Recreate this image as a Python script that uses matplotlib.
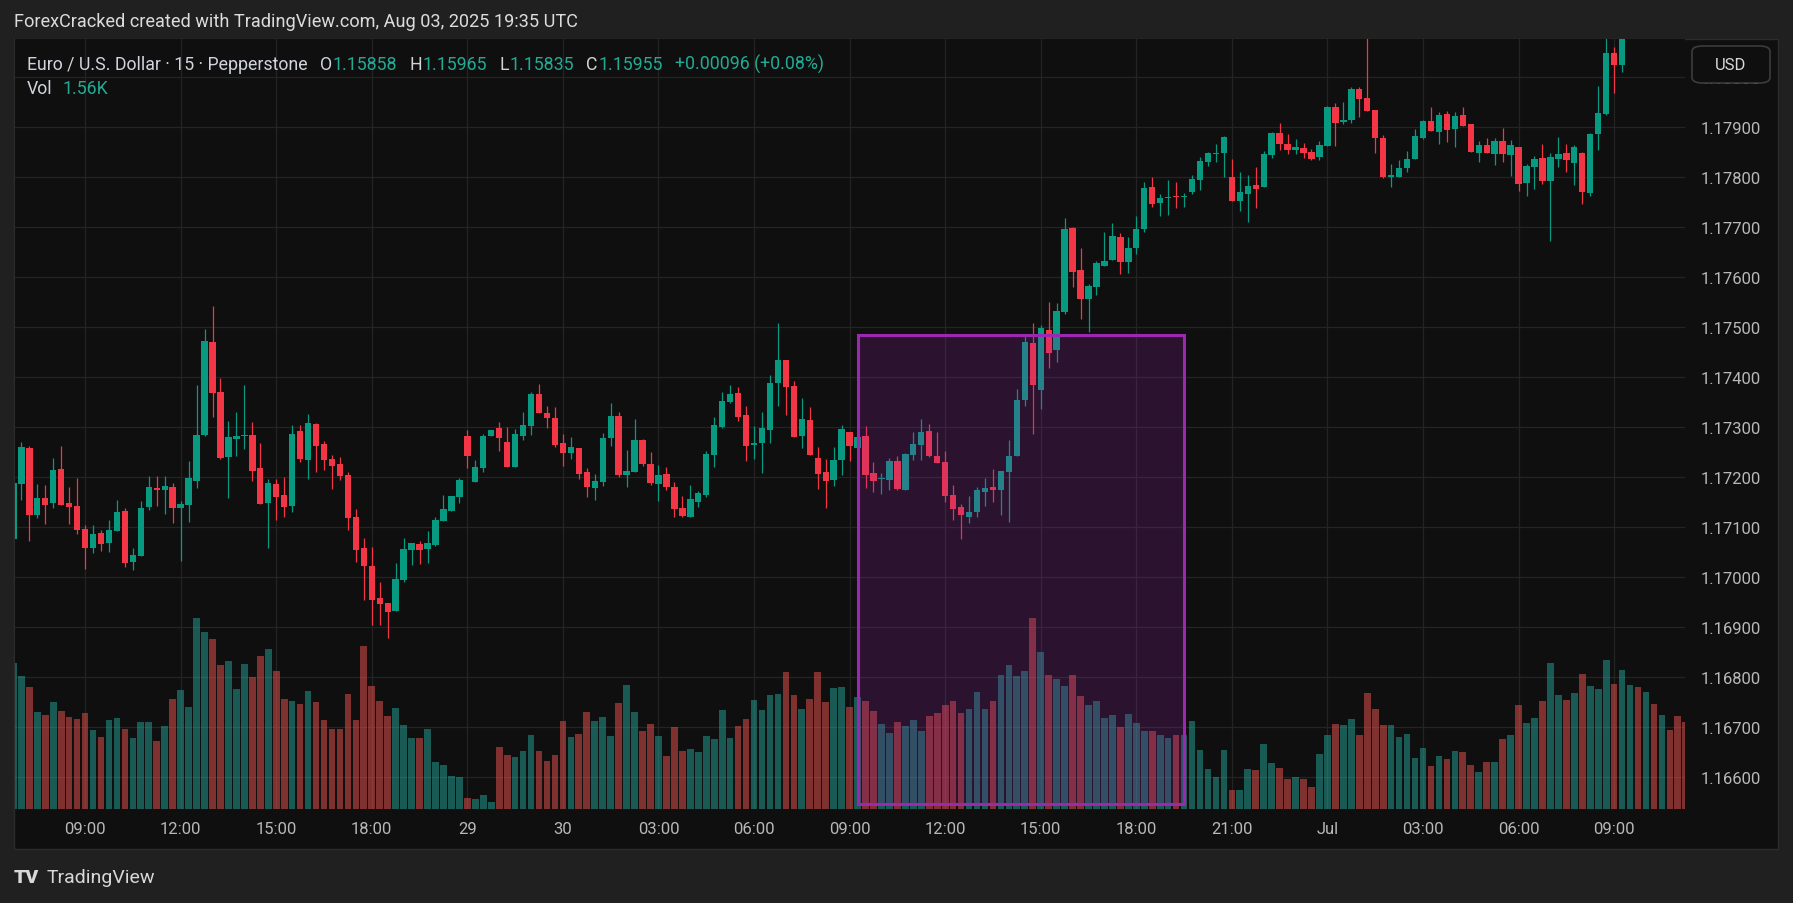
"""EUR/USD 15m candlestick chart (TradingView dark style) with volume pane
and a highlighted session box."""
import matplotlib
matplotlib.use("Agg")
import matplotlib.pyplot as plt
from matplotlib.patches import Rectangle, FancyBboxPatch
import numpy as np

plt.rcParams["font.family"] = ["Roboto", "DejaVu Sans"]

# ---- data ---------------------------------------------------------------
OPEN = [
    1.17077, 1.17187, 1.17259, 1.17125, 1.17159, 1.17149, 1.17216, 1.17149, 1.17143, 1.17097,
    1.17059, 1.17089, 1.17069, 1.17092, 1.17132, 1.17030, 1.17043, 1.17141, 1.17179, 1.17175,
    1.17181, 1.17139, 1.17145, 1.17193, 1.17284, 1.17470, 1.17370, 1.17240, 1.17277, 1.17282,
    1.17284, 1.17219, 1.17149, 1.17187, 1.17165, 1.17143, 1.17292, 1.17234, 1.17306, 1.17266,
    1.17236, 1.17226, 1.17204, 1.17120, 1.17059, 1.17023, 1.16959, 1.16948, 1.16932, 1.16994,
    1.17055, 1.17067, 1.17057, 1.17065, 1.17112, 1.17132, 1.17161, 1.17282, 1.17191, 1.17218,
    1.17282, 1.17298, 1.17271, 1.17220, 1.17282, 1.17303, 1.17366, 1.17328, 1.17318, 1.17268,
    1.17248, 1.17259, 1.17210, 1.17179, 1.17191, 1.17279, 1.17322, 1.17205, 1.17210, 1.17275,
    1.17226, 1.17187, 1.17207, 1.17181, 1.17139, 1.17121, 1.17151, 1.17165, 1.17245, 1.17301,
    1.17351, 1.17368, 1.17324, 1.17264, 1.17268, 1.17295, 1.17388, 1.17434, 1.17382, 1.17282,
    1.17315, 1.17238, 1.17210, 1.17194, 1.17234, 1.17291, 1.17259, 1.17283, 1.17209, 1.17196,
    1.17195, 1.17233, 1.17175, 1.17245, 1.17265, 1.17293, 1.17243, 1.17231, 1.17165, 1.17140,
    1.17121, 1.17131, 1.17171, 1.17181, 1.17174, 1.17211, 1.17242, 1.17355, 1.17469, 1.17375,
    1.17495, 1.17455, 1.17531, 1.17699, 1.17615, 1.17557, 1.17581, 1.17623, 1.17635, 1.17681,
    1.17631, 1.17659, 1.17696, 1.17780, 1.17749, 1.17758, 1.17762, 1.17760, 1.17771, 1.17795,
    1.17831, 1.17847, 1.17848, 1.17800, 1.17753, 1.17767, 1.17784, 1.17780, 1.17845, 1.17889,
    1.17867, 1.17855, 1.17859, 1.17851, 1.17841, 1.17863, 1.17940, 1.17910, 1.17914, 1.17977,
    1.17958, 1.17934, 1.17879, 1.17800, 1.17800, 1.17818, 1.17837, 1.17879, 1.17912, 1.17891,
    1.17926, 1.17897, 1.17924, 1.17906, 1.17849, 1.17865, 1.17847, 1.17873, 1.17845, 1.17861,
    1.17788, 1.17820, 1.17839, 1.17792, 1.17837, 1.17849, 1.17829, 1.17849, 1.17768, 1.17887,
    1.17926, 1.18048, 1.18025, 1.18120, 1.18180, 1.18140, 1.18190, 1.18150, 1.18180, 1.18140,
    1.18110,
]
HIGH = [
    1.17195, 1.17271, 1.17262, 1.17187, 1.17185, 1.17239, 1.17263, 1.17181, 1.17199, 1.17105,
    1.17105, 1.17095, 1.17114, 1.17155, 1.17139, 1.17059, 1.17152, 1.17203, 1.17203, 1.17203,
    1.17189, 1.17152, 1.17232, 1.17384, 1.17497, 1.17543, 1.17399, 1.17313, 1.17331, 1.17384,
    1.17311, 1.17269, 1.17197, 1.17197, 1.17201, 1.17305, 1.17304, 1.17326, 1.17308, 1.17272,
    1.17244, 1.17240, 1.17210, 1.17136, 1.17079, 1.17061, 1.16990, 1.16948, 1.17028, 1.17079,
    1.17069, 1.17072, 1.17092, 1.17120, 1.17165, 1.17163, 1.17198, 1.17294, 1.17234, 1.17286,
    1.17294, 1.17311, 1.17301, 1.17297, 1.17331, 1.17370, 1.17386, 1.17342, 1.17340, 1.17286,
    1.17280, 1.17259, 1.17219, 1.17207, 1.17289, 1.17348, 1.17331, 1.17255, 1.17317, 1.17277,
    1.17251, 1.17224, 1.17220, 1.17191, 1.17163, 1.17185, 1.17173, 1.17253, 1.17320, 1.17370,
    1.17384, 1.17380, 1.17342, 1.17303, 1.17331, 1.17404, 1.17508, 1.17434, 1.17393, 1.17359,
    1.17340, 1.17260, 1.17236, 1.17260, 1.17304, 1.17291, 1.17283, 1.17303, 1.17231, 1.17208,
    1.17239, 1.17242, 1.17249, 1.17291, 1.17317, 1.17307, 1.17291, 1.17253, 1.17185, 1.17146,
    1.17163, 1.17181, 1.17199, 1.17217, 1.17213, 1.17275, 1.17377, 1.17484, 1.17509, 1.17505,
    1.17551, 1.17549, 1.17719, 1.17701, 1.17659, 1.17586, 1.17633, 1.17691, 1.17709, 1.17689,
    1.17681, 1.17723, 1.17790, 1.17800, 1.17767, 1.17794, 1.17790, 1.17768, 1.17804, 1.17841,
    1.17851, 1.17867, 1.17883, 1.17837, 1.17810, 1.17804, 1.17820, 1.17853, 1.17891, 1.17908,
    1.17887, 1.17877, 1.17869, 1.17857, 1.17873, 1.17942, 1.17948, 1.17950, 1.17981, 1.17981,
    1.18090, 1.17934, 1.17885, 1.17826, 1.17835, 1.17853, 1.17897, 1.17914, 1.17940, 1.17930,
    1.17932, 1.17930, 1.17940, 1.17906, 1.17873, 1.17879, 1.17879, 1.17899, 1.17875, 1.17861,
    1.17826, 1.17843, 1.17867, 1.17849, 1.17881, 1.17867, 1.17865, 1.17851, 1.17889, 1.17983,
    1.18090, 1.18060, 1.18150, 1.18200, 1.18210, 1.18220, 1.18200, 1.18200, 1.18190, 1.18150,
    1.18120,
]
LOW = [
    1.17070, 1.17155, 1.17072, 1.17119, 1.17107, 1.17139, 1.17145, 1.17107, 1.17087, 1.17017,
    1.17049, 1.17053, 1.17051, 1.17092, 1.17021, 1.17014, 1.17043, 1.17134, 1.17143, 1.17127,
    1.17109, 1.17032, 1.17110, 1.17179, 1.17283, 1.17320, 1.17236, 1.17159, 1.17242, 1.17256,
    1.17193, 1.17147, 1.17059, 1.17114, 1.17120, 1.17131, 1.17230, 1.17197, 1.17210, 1.17215,
    1.17176, 1.17194, 1.17094, 1.17030, 1.16955, 1.16904, 1.16904, 1.16879, 1.16932, 1.16990,
    1.17025, 1.17027, 1.17028, 1.17063, 1.17112, 1.17132, 1.17149, 1.17218, 1.17191, 1.17210,
    1.17282, 1.17253, 1.17220, 1.17220, 1.17275, 1.17285, 1.17328, 1.17298, 1.17260, 1.17222,
    1.17236, 1.17197, 1.17161, 1.17155, 1.17183, 1.17263, 1.17201, 1.17181, 1.17210, 1.17222,
    1.17185, 1.17152, 1.17174, 1.17121, 1.17121, 1.17121, 1.17141, 1.17161, 1.17220, 1.17299,
    1.17348, 1.17313, 1.17233, 1.17236, 1.17209, 1.17268, 1.17342, 1.17324, 1.17280, 1.17258,
    1.17245, 1.17176, 1.17139, 1.17183, 1.17205, 1.17233, 1.17257, 1.17179, 1.17171, 1.17167,
    1.17174, 1.17175, 1.17175, 1.17235, 1.17235, 1.17241, 1.17229, 1.17151, 1.17114, 1.17077,
    1.17108, 1.17121, 1.17143, 1.17151, 1.17124, 1.17110, 1.17242, 1.17343, 1.17287, 1.17336,
    1.17419, 1.17430, 1.17527, 1.17581, 1.17517, 1.17490, 1.17565, 1.17623, 1.17635, 1.17607,
    1.17609, 1.17647, 1.17690, 1.17740, 1.17723, 1.17725, 1.17738, 1.17740, 1.17767, 1.17775,
    1.17823, 1.17831, 1.17800, 1.17752, 1.17733, 1.17711, 1.17739, 1.17780, 1.17839, 1.17855,
    1.17847, 1.17847, 1.17839, 1.17835, 1.17835, 1.17863, 1.17863, 1.17906, 1.17908, 1.17920,
    1.17932, 1.17849, 1.17798, 1.17780, 1.17800, 1.17810, 1.17837, 1.17877, 1.17893, 1.17867,
    1.17871, 1.17861, 1.17903, 1.17851, 1.17831, 1.17849, 1.17824, 1.17831, 1.17802, 1.17772,
    1.17763, 1.17776, 1.17786, 1.17672, 1.17820, 1.17810, 1.17784, 1.17747, 1.17763, 1.17855,
    1.17924, 1.17968, 1.18010, 1.18100, 1.18120, 1.18130, 1.18130, 1.18140, 1.18130, 1.18100,
    1.18085,
]
CLOSE = [
    1.17189, 1.17261, 1.17125, 1.17159, 1.17145, 1.17214, 1.17145, 1.17141, 1.17095, 1.17059,
    1.17087, 1.17067, 1.17094, 1.17130, 1.17029, 1.17045, 1.17139, 1.17181, 1.17174, 1.17183,
    1.17139, 1.17147, 1.17199, 1.17284, 1.17472, 1.17368, 1.17238, 1.17280, 1.17282, 1.17284,
    1.17213, 1.17147, 1.17189, 1.17161, 1.17141, 1.17286, 1.17236, 1.17308, 1.17262, 1.17234,
    1.17222, 1.17202, 1.17118, 1.17055, 1.17023, 1.16955, 1.16946, 1.16930, 1.16997, 1.17057,
    1.17069, 1.17055, 1.17069, 1.17114, 1.17136, 1.17163, 1.17194, 1.17242, 1.17220, 1.17282,
    1.17294, 1.17278, 1.17220, 1.17286, 1.17304, 1.17366, 1.17328, 1.17318, 1.17264, 1.17248,
    1.17260, 1.17207, 1.17181, 1.17193, 1.17279, 1.17322, 1.17205, 1.17213, 1.17275, 1.17226,
    1.17189, 1.17205, 1.17181, 1.17137, 1.17123, 1.17157, 1.17169, 1.17247, 1.17305, 1.17353,
    1.17366, 1.17320, 1.17262, 1.17268, 1.17298, 1.17388, 1.17434, 1.17380, 1.17280, 1.17317,
    1.17245, 1.17207, 1.17193, 1.17234, 1.17297, 1.17262, 1.17281, 1.17205, 1.17193, 1.17198,
    1.17233, 1.17177, 1.17247, 1.17267, 1.17291, 1.17243, 1.17229, 1.17163, 1.17137, 1.17124,
    1.17131, 1.17174, 1.17179, 1.17174, 1.17213, 1.17243, 1.17355, 1.17471, 1.17385, 1.17499,
    1.17449, 1.17533, 1.17697, 1.17611, 1.17557, 1.17583, 1.17629, 1.17633, 1.17683, 1.17631,
    1.17659, 1.17697, 1.17778, 1.17747, 1.17759, 1.17761, 1.17760, 1.17762, 1.17796, 1.17833,
    1.17849, 1.17849, 1.17881, 1.17753, 1.17770, 1.17782, 1.17776, 1.17847, 1.17889, 1.17867,
    1.17855, 1.17861, 1.17849, 1.17837, 1.17865, 1.17940, 1.17908, 1.17914, 1.17977, 1.17956,
    1.17932, 1.17879, 1.17800, 1.17804, 1.17818, 1.17837, 1.17883, 1.17912, 1.17893, 1.17924,
    1.17895, 1.17922, 1.17903, 1.17851, 1.17865, 1.17849, 1.17873, 1.17847, 1.17865, 1.17786,
    1.17822, 1.17837, 1.17792, 1.17841, 1.17847, 1.17835, 1.17861, 1.17770, 1.17887, 1.17928,
    1.18048, 1.18024, 1.18120, 1.18180, 1.18140, 1.18190, 1.18150, 1.18180, 1.18140, 1.18110,
    1.18090,
]
VOLUME = [
    146, 133, 122, 97, 94, 107, 98, 92, 90, 96, 79, 72, 89, 91, 80, 71, 87, 87, 68, 83,
    110, 119, 102, 191, 177, 170, 144, 148, 120, 145, 132, 153, 160, 138, 110, 108, 105, 118, 107, 89,
    80, 80, 115, 89, 163, 123, 108, 93, 101, 84, 71, 71, 80, 47, 44, 33, 32, 11, 10, 14,
    7, 62, 54, 52, 58, 74, 58, 48, 54, 88, 72, 75, 97, 88, 92, 73, 106, 124, 97, 78,
    85, 73, 53, 82, 58, 60, 57, 73, 70, 99, 71, 83, 90, 109, 99, 114, 115, 137, 114, 100,
    110, 137, 107, 121, 122, 102, 112, 108, 98, 85, 76, 87, 83, 89, 78, 93, 96, 104, 108, 96,
    100, 117, 100, 108, 134, 144, 133, 138, 191, 157, 134, 130, 123, 134, 113, 104, 108, 91, 94, 82,
    95, 86, 78, 78, 74, 71, 74, 74, 88, 59, 40, 32, 59, 19, 19, 40, 39, 65, 46, 41,
    30, 32, 30, 22, 55, 74, 85, 84, 90, 74, 116, 100, 84, 84, 72, 75, 51, 61, 43, 53,
    50, 58, 57, 44, 37, 47, 47, 70, 74, 104, 86, 91, 108, 146, 114, 109, 116, 135, 123, 120,
    149, 125, 139, 124, 122, 117, 105, 94, 79, 93, 87,
]
TICK_IDX = [9, 21, 33, 45, 57, 69, 81, 93, 105, 117, 129, 141, 153, 165, 177, 189, 201]
TICK_LABELS = ["09:00", "12:00", "15:00", "18:00", "29", "30", "03:00", "06:00", "09:00",
               "12:00", "15:00", "18:00", "21:00", "Jul", "03:00", "06:00", "09:00"]
PRICE_TICKS = [1.166, 1.167, 1.168, 1.169, 1.170, 1.171, 1.172, 1.173, 1.174, 1.175,
               1.176, 1.177, 1.178, 1.179, 1.180]
BOX_START, BOX_END = 106, 147
BOX_LOW, BOX_HIGH = 1.16547, 1.17485

# ---- style ---------------------------------------------------------------
W, H = 1793, 904
BG_OUT = "#202020"
BG_CHART = "#0f0f0f"
GRID = "#242424"
TXT = "#b8b8b8"
UP, DOWN = "#089981", "#f23645"
VOL_UP, VOL_DOWN = (38/255, 166/255, 154/255, 0.5), (239/255, 83/255, 80/255, 0.5)


def fx(px):
    return px / W


def fy(py):
    return 1 - py / H


fig = plt.figure(figsize=(W / 100, H / 100), dpi=100, facecolor=BG_OUT)

# chart panel background
fig.patches.append(Rectangle((fx(14), fy(850)), (1778 - 14) / W, (850 - 40) / H,
                             transform=fig.transFigure, facecolor=BG_CHART,
                             edgecolor="#2c2c2c", lw=1, zorder=-1))

rect = [fx(15), fy(810), (1685 - 15) / W, (810 - 40) / H]
ax = fig.add_axes(rect)
ax_vol = fig.add_axes(rect, sharex=ax)
ax_vol.set_zorder(ax.get_zorder() + 1)
ax_vol.patch.set_visible(False)
ax.set_facecolor(BG_CHART)

o, h, l, c = map(np.array, (OPEN, HIGH, LOW, CLOSE))
x = np.arange(len(o))
up = c >= o
col = np.where(up, UP, DOWN)

# grid
for p in PRICE_TICKS:
    ax.axhline(p, color=GRID, lw=0.9, zorder=0)
for t in TICK_IDX:
    ax.axvline(t, color=GRID, lw=0.9, zorder=0)

# candles
ax.vlines(x, l, h, colors=col, lw=0.9, zorder=2)
body_lo = np.minimum(o, c)
body_h = np.maximum(np.abs(c - o), 0.000018)
ax.bar(x, body_h, bottom=body_lo, width=0.8, color=col, lw=0, zorder=3)

# volume
vcol = [VOL_UP if u else VOL_DOWN for u in up]
ax_vol.bar(x, VOLUME, width=0.84, color=vcol, lw=0)
ax_vol.set_ylim(0, 770)

# highlighted session box
ax_vol.add_patch(Rectangle((BOX_START, BOX_LOW), BOX_END - BOX_START, BOX_HIGH - BOX_LOW,
                           transform=ax.transData,
                           facecolor=(156/255, 39/255, 176/255, 0.2),
                           edgecolor="#9c27b0", lw=2.2, zorder=5))

ax.set_xlim(0.2, 209.9)
ax.set_ylim(1.165366, 1.180766)

for a in (ax, ax_vol):
    for s in a.spines.values():
        s.set_visible(False)

ax.yaxis.tick_right()
ax.set_yticks(PRICE_TICKS)
ax.set_yticklabels([f"{p:.5f}" for p in PRICE_TICKS])
ax.set_xticks(TICK_IDX)
ax.set_xticklabels(TICK_LABELS)
ax.tick_params(axis="y", length=0, pad=11, labelsize=12, labelcolor=TXT)
ax.tick_params(axis="x", length=0, pad=9, labelsize=12, labelcolor=TXT)
ax_vol.tick_params(left=False, bottom=False, labelleft=False, labelbottom=False)

# USD button (covers the 1.18000 label like the original)
fig.patches.append(FancyBboxPatch((fx(1692), fy(84)), (1770 - 1692) / W, (84 - 47) / H,
                                  boxstyle="round,pad=0,rounding_size=0.006",
                                  transform=fig.transFigure, facecolor=BG_CHART,
                                  edgecolor="#3c3c3c", lw=1.2, zorder=3))
fig.text(fx(1731), fy(65.5), "USD", color="#d8d8d8", fontsize=12, ha="center", va="center", zorder=4)

# header / legend / footer text
fig.text(fx(14), fy(22), "ForexCracked created with TradingView.com, Aug 03, 2025 19:35 UTC",
         color="#dcdcdc", fontsize=13.05, ha="left", va="center")

renderer = fig.canvas.get_renderer()


def segments(x0, y0, parts, size=12.75):
    xpos = x0
    for s, color, gap in parts:
        t = fig.text(fx(xpos), fy(y0), s, color=color, fontsize=size, ha="left", va="center")
        xpos += t.get_window_extent(renderer).width + gap


LEG = "#d1d4dc"
TEAL = "#22ab94"
segments(27, 64.5, [("Euro / U.S. Dollar · 15 · Pepperstone", LEG, 12),
                    ("O", LEG, 1), ("1.15858", TEAL, 12),
                    ("H", LEG, 1), ("1.15965", TEAL, 12),
                    ("L", LEG, 1), ("1.15835", TEAL, 12),
                    ("C", LEG, 1), ("1.15955", TEAL, 12),
                    ("+0.00096 (+0.08%)", TEAL, 0)])
segments(27, 89.5, [("Vol", LEG, 10), ("1.56K", TEAL, 0)])

fig.text(fx(14), fy(878), "TV", color="#d8d8d8", fontsize=14, fontweight="heavy",
         ha="left", va="center")
fig.text(fx(47), fy(878), "TradingView", color="#d8d8d8", fontsize=14, ha="left", va="center")

fig.savefig("out.png", dpi=100, facecolor=BG_OUT)
